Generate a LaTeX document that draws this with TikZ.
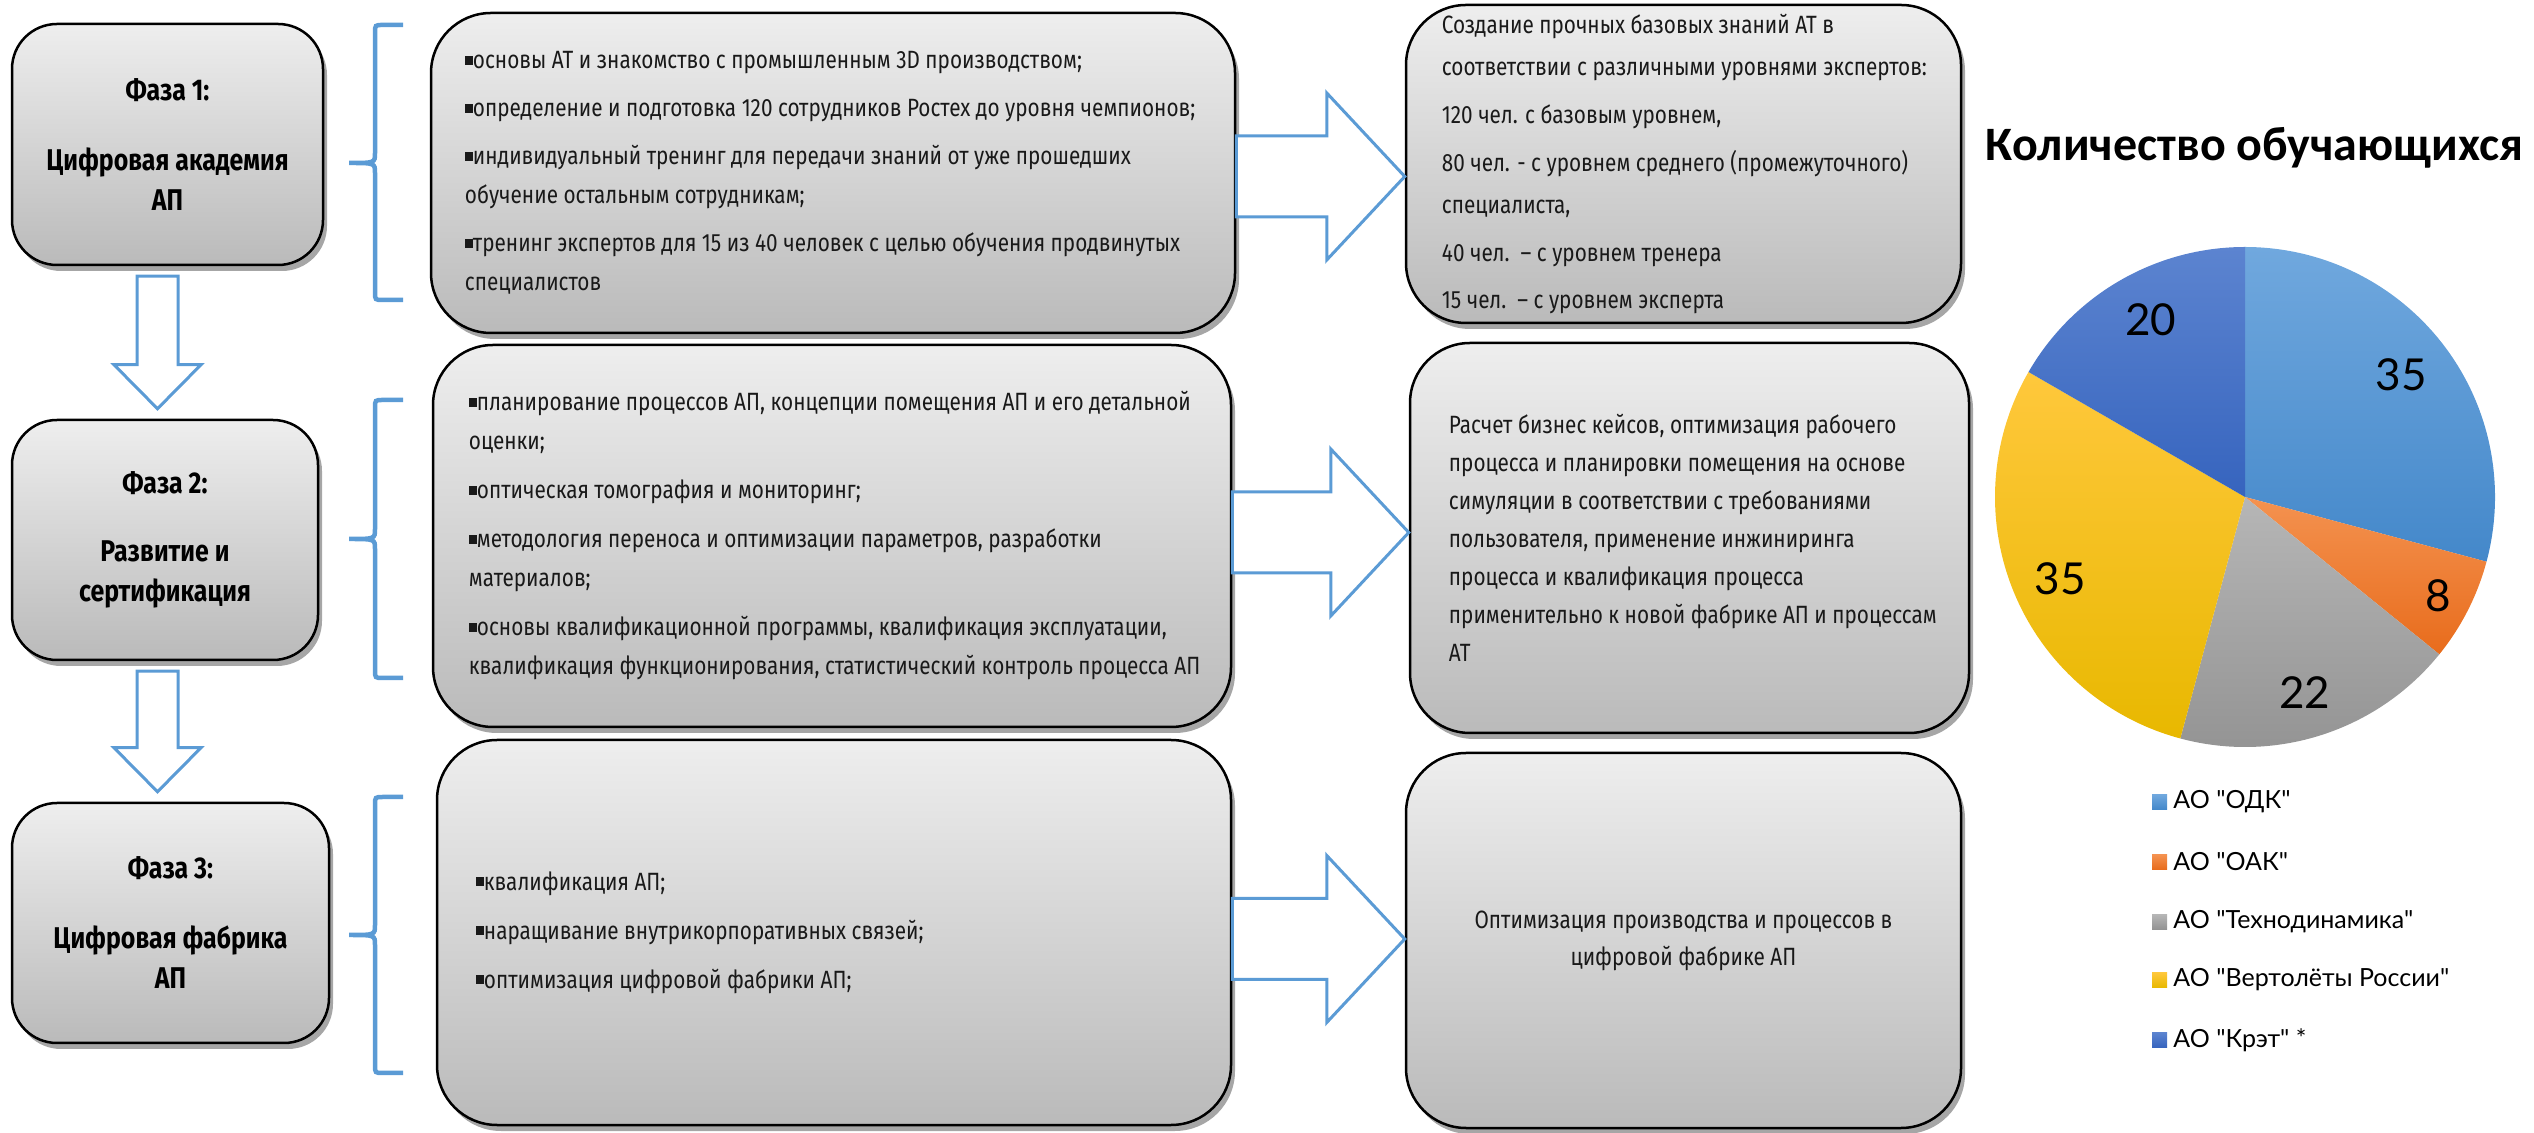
\documentclass[tikz,border=0pt]{standalone}
\usepackage{fontspec}
\setmainfont{Fira Sans}[FakeStretch=0.83]
\newfontfamily\titlefont{Carlito}
\newfontfamily\chartfont{Lato}
\usetikzlibrary{calc,positioning,shadows}
\definecolor{boxtop}{RGB}{238,238,238}
\definecolor{boxbot}{RGB}{186,186,186}
\definecolor{arrblue}{RGB}{91,155,213}
\definecolor{odktop}{RGB}{112,168,222}
\definecolor{odkbot}{RGB}{68,136,202}
\definecolor{oaktop}{RGB}{244,146,80}
\definecolor{oakbot}{RGB}{232,108,28}
\definecolor{tehtop}{RGB}{182,182,182}
\definecolor{tehbot}{RGB}{146,146,146}
\definecolor{vertop}{RGB}{255,200,60}
\definecolor{verbot}{RGB}{232,184,0}
\definecolor{krettop}{RGB}{92,132,208}
\definecolor{kretbot}{RGB}{54,100,190}
\newcommand{\sqb}{\rule[4pt]{8pt}{9pt}}
% block arrow down between two phase boxes
\newcommand{\blockdown}[2]{\draw[blockarr] let \p1=(#1.south), \p2=(#2.north) in
  (137,\y1-10pt) -- (178,\y1-10pt) -- (178,\y2+54pt) -- (201,\y2+54pt) -- (157.5,\y2+10pt)
  -- (114,\y2+54pt) -- (137,\y2+54pt) -- cycle;}
% block arrow right, #3 = middle height
\newcommand{\blockright}[3]{\draw[blockarr] let \p1=(#1.east), \p2=(#2.west) in
  (\x1,#3+40.5) -- (\x2-78pt,#3+40.5) -- (\x2-78pt,#3+83.5) -- (\x2,#3)
  -- (\x2-78pt,#3-83.5) -- (\x2-78pt,#3-40.5) -- (\x1,#3-40.5) -- cycle;}
% blue brace: top, tip, bottom
\newcommand{\phasebrace}[3]{\draw[brace] (403,#1) -- (383,#1) .. controls (375,#1) .. (375,#1-8)
  -- (375,#2+10) .. controls (375,#2) .. (349,#2) .. controls (375,#2) .. (375,#2-10)
  -- (375,#3+8) .. controls (375,#3) .. (383,#3) -- (403,#3);}

\begin{document}
\begin{tikzpicture}[x=1pt, y=1pt,
    box/.style = {draw=black, line width=2.5pt, top color=boxtop, bottom color=boxbot,
      drop shadow={shadow xshift=4pt, shadow yshift=-6pt, fill=black, opacity=0.35}},
    phase/.style = {box, rounded corners=45, align=center, inner sep=0pt,
      font=\bfseries\fontsize{30}{40}\selectfont},
    mbox/.style = {box, rounded corners=60},
    txt/.style = {align=left, inner sep=0pt, anchor=west, text=black!90,
      font=\fontsize{25}{39}\selectfont},
    blockarr/.style = {draw=arrblue, line width=3pt, fill=white, line join=miter},
    brace/.style = {draw=arrblue, line width=4.5pt},
    pielab/.style = {font=\chartfont\fontsize{44}{44}\selectfont},
    legsq/.style = {minimum size=15pt, inner sep=0pt},
    legtxt/.style = {font=\chartfont\fontsize{25}{25}\selectfont, inner sep=0pt, anchor=west}]
\useasboundingbox (0,0) rectangle (2534,1132);

% phases
\node[phase, minimum width=311, minimum height=241] (ph1) at (167.5,987.5)
  {Фаза 1:\\[30pt]Цифровая академия\\АП};
\node[phase, minimum width=306, minimum height=240] (ph2) at (165,592)
  {Фаза 2:\\[28pt]Развитие и\\сертификация};
\node[phase, minimum width=317, minimum height=240] (ph3) at (170.5,209)
  {Фаза 3:\\[30pt]Цифровая фабрика\\АП};

\blockdown{ph1}{ph2}
\blockdown{ph2}{ph3}

% braces
\phasebrace{1107}{969}{832}
\phasebrace{732}{593}{454}
\phasebrace{335}{197}{59}

% tasks
\node[mbox, minimum width=804, minimum height=320] (m1) at (833,959) {};
\node[txt] (m1t) at ([xshift=35]m1.west)
  {\sqb основы АТ и знакомство с промышленным 3D производством;\\[9pt]
   \sqb определение и подготовка 120 сотрудников Ростех до уровня чемпионов;\\[9pt]
   \sqb индивидуальный тренинг для передачи знаний от уже прошедших\\
   обучение остальным сотрудникам;\\[9pt]
   \sqb тренинг экспертов для 15 из 40 человек с целью обучения продвинутых\\
   специалистов};

\node[mbox, minimum width=798, minimum height=382] (m2) at (832,596) {};
\node[txt] (m2t) at ([xshift=37]m2.west)
  {\sqb планирование процессов АП, концепции помещения АП и его детальной\\
   оценки;\\[10pt]
   \sqb оптическая томография и мониторинг;\\[10pt]
   \sqb методология переноса и оптимизации параметров, разработки\\
   материалов;\\[10pt]
   \sqb основы квалификационной программы, квалификация эксплуатации,\\
   квалификация функционирования, статистический контроль процесса АП};

\node[mbox, minimum width=794, minimum height=385] (m3) at (834,199.5) {};
\node[txt] (m3t) at ([xshift=40]m3.west)
  {\sqb квалификация АП;\\[10pt]
   \sqb наращивание внутрикорпоративных связей;\\[10pt]
   \sqb оптимизация цифровой фабрики АП;};

% results
\node[mbox, minimum width=555, minimum height=318] (r1) at (1683.5,968) {};
\node[txt, font=\fontsize{25}{42}\selectfont] (r1t) at ([xshift=37]r1.west)
  {Создание прочных базовых знаний АТ в\\
   соответствии с различными уровнями экспертов:\\[6pt]
   120 чел. с базовым уровнем,\\[6pt]
   80 чел. - с уровнем среднего (промежуточного)\\
   специалиста,\\[6pt]
   40 чел.\ \ – с уровнем тренера\\[5pt]
   15 чел.\ \ – с уровнем эксперта};

\node[mbox, minimum width=559, minimum height=390] (r2) at (1689.5,594) {};
\node[txt, font=\fontsize{25}{38}\selectfont] (r2t) at ([xshift=40]r2.west)
  {Расчет бизнес кейсов, оптимизация рабочего\\
   процесса и планировки помещения на основе\\
   симуляции в соответствии с требованиями\\
   пользователя, применение инжиниринга\\
   процесса и квалификация процесса\\
   применительно к новой фабрике АП и процессам\\
   АТ};

\node[mbox, minimum width=555, minimum height=375, align=center, text=black!90,
  font=\fontsize{25}{37}\selectfont] (r3) at (1683.5,191.5)
  {Оптимизация производства и процессов в\\цифровой фабрике АП};

\blockright{m1}{r1}{955.5}
\blockright{m2}{r2}{599.5}
\blockright{m3}{r3}{193}

% chart
\node[font=\titlefont\bfseries\fontsize{48}{48}\selectfont] (title) at (2254.5,984)
  {Количество обучающихся};
\coordinate (pc) at (2245,635);
\path[top color=odktop, bottom color=odkbot] (pc) -- ++(90:250pt)
  arc[start angle=90, end angle=-15, radius=250pt] -- cycle;
\path[top color=oaktop, bottom color=oakbot] (pc) -- ++(-15:250pt)
  arc[start angle=-15, end angle=-39, radius=250pt] -- cycle;
\path[top color=tehtop, bottom color=tehbot] (pc) -- ++(-39:250pt)
  arc[start angle=-39, end angle=-105, radius=250pt] -- cycle;
\path[top color=vertop, bottom color=verbot] (pc) -- ++(-105:250pt)
  arc[start angle=-105, end angle=-210, radius=250pt] -- cycle;
\path[top color=krettop, bottom color=kretbot] (pc) -- ++(150:250pt)
  arc[start angle=150, end angle=90, radius=250pt] -- cycle;
\node[pielab] (v1) at ($(pc)+(38:198pt)$) {35};
\node[pielab] (v2) at ($(pc)+(-27:217pt)$) {8};
\node[pielab] (v3) at ($(pc)+(-73:205pt)$) {22};
\node[pielab] (v4) at ($(pc)+(-156:202pt)$) {35};
\node[pielab] (v5) at ($(pc)+(118:201pt)$) {20};

% legend
\node[legsq, top color=odktop, bottom color=odkbot] (k1) at (2159.5,330) {};
\node[legtxt, right=6pt of k1] (k1t) {АО "ОДК"};
\node[legsq, top color=oaktop, bottom color=oakbot] (k2) at (2159.5,270) {};
\node[legtxt, right=6pt of k2] (k2t) {АО "ОАК"};
\node[legsq, top color=tehtop, bottom color=tehbot] (k3) at (2159.5,210) {};
\node[legtxt, right=6pt of k3] (k3t) {АО "Технодинамика"};
\node[legsq, top color=vertop, bottom color=verbot] (k4) at (2159.5,152) {};
\node[legtxt, right=6pt of k4] (k4t) {АО "Вертолёты России"};
\node[legsq, top color=krettop, bottom color=kretbot] (k5) at (2159.5,92) {};
\node[legtxt, right=6pt of k5] (k5t) {АО "Крэт" *};
\end{tikzpicture}
\end{document}
